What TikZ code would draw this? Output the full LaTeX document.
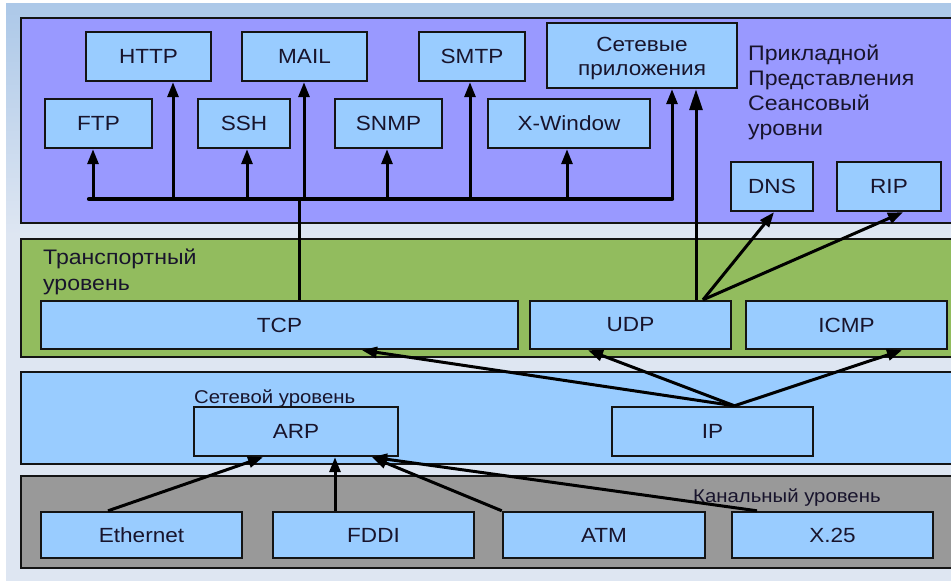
\documentclass[tikz,border=0pt]{standalone}
\usepackage{fontspec}
\setmainfont{Liberation Sans}
\newfontfamily\lblfont[FakeStretch=1.1]{Liberation Sans}
\usetikzlibrary{arrows.meta}
\definecolor{bgtop}{RGB}{172,200,232}
\definecolor{bgbot}{RGB}{222,230,242}
\definecolor{appc}{RGB}{153,153,255}
\definecolor{trc}{RGB}{146,188,94}
\definecolor{netc}{RGB}{153,204,255}
\definecolor{linkc}{RGB}{153,153,153}
\definecolor{boxc}{RGB}{153,204,255}
\definecolor{txt}{RGB}{24,20,44}
\definecolor{edgec}{RGB}{20,20,20}
\tikzset{
  panel/.style={draw=edgec, line width=2.2pt},
  protobox/.style={draw=edgec, line width=2.4pt, fill=boxc, inner sep=0pt},
  prototext/.style={text=txt, inner sep=0pt, align=center,
    font=\lblfont\fontsize{20.5}{23}\selectfont},
  proto/.style={protobox, prototext},
  lbl/.style={text=txt, inner sep=0pt, anchor=base west, font=\lblfont\fontsize{21}{24}\selectfont},
  smalllbl/.style={text=txt, inner sep=0pt, anchor=base west, font=\lblfont\fontsize{18.5}{22}\selectfont},
  conn/.style={line width=3pt, draw=black},
  arr/.style={conn, -{Triangle[length=15pt,width=11pt]}},
  bigarr/.style={conn, -{Triangle[length=21pt,width=13pt]}},
  busline/.style={line width=4.2pt, draw=black, line cap=round}
}
\begin{document}
\begin{tikzpicture}[x=1pt,y=-1pt]
\useasboundingbox (0,0) rectangle (951,581);
\clip (0,0) rectangle (951,581);
% background
\fill[white] (0,0) rectangle (951,581);
\fill[bgbot] (6,3) rectangle (951,581);
\shade[top color=bgtop, bottom color=bgbot] (6,3) rectangle (951,235);
% layer panels
\path[panel, fill=appc] (21,18) rectangle (965,223);
\path[panel, fill=trc] (21,239) rectangle (965,357);
\path[panel, fill=netc] (21,372) rectangle (965,464);
\path[panel, fill=linkc] (21,476) rectangle (965,568);

% application layer boxes
\node[proto, minimum width=125, minimum height=49] (http) at (148.5,56.5) {HTTP};
\node[proto, minimum width=125, minimum height=49] (mail) at (304.5,56.5) {MAIL};
\node[proto, minimum width=106, minimum height=49] (smtp) at (472,56.5) {SMTP};
\node[protobox, minimum width=190, minimum height=65] (netapp) at (642,55.5) {};
\node[prototext] (netapptxt) at ([yshift=-3pt]netapp.center) {Сетевые\\[1.5pt]приложения};
\node[proto, minimum width=107, minimum height=49] (ftp) at (98.5,123.5) {FTP};
\node[proto, minimum width=92, minimum height=49] (ssh) at (244,123.5) {SSH};
\node[proto, minimum width=107, minimum height=49] (snmp) at (388.5,123.5) {SNMP};
\node[proto, minimum width=162, minimum height=49] (xwin) at (569,123.5) {X-Window};
\node[proto, minimum width=82, minimum height=49] (dns) at (772,186.5) {DNS};
\node[proto, minimum width=104, minimum height=49] (rip) at (889,186.5) {RIP};

\node[lbl] (l1) at (748,60) {Прикладной};
\node[lbl] (l2) at (748,85) {Представления};
\node[lbl] (l3) at (748,110) {Сеансовый};
\node[lbl] (l4) at (748,135) {уровни};

% transport layer
\node[lbl] (t1) at (43,264) {Транспортный};
\node[lbl] (t2) at (43,290) {уровень};
\node[proto, minimum width=477, minimum height=48] (tcp) at (279.5,325) {TCP};
\node[proto, minimum width=201, minimum height=48] (udp) at (630.5,325) {UDP};
\node[proto, minimum width=201, minimum height=48] (icmp) at (846.5,325) {ICMP};

% network layer
\node[smalllbl] (n1) at (194,403) {Сетевой уровень};
\node[proto, minimum width=204, minimum height=49] (arp) at (296,431.5) {ARP};
\node[proto, minimum width=201, minimum height=49] (ip) at (712.5,431.5) {IP};

% link layer
\node[smalllbl] (k1) at (693,502) {Канальный уровень};
\node[proto, minimum width=201, minimum height=46] (eth) at (141.5,535) {Ethernet};
\node[proto, minimum width=201, minimum height=46] (fddi) at (373.5,535) {FDDI};
\node[proto, minimum width=202, minimum height=46] (atm) at (604,535) {ATM};
\node[proto, minimum width=201, minimum height=46] (x25) at (832.5,535) {X.25};

% bus in application layer
\coordinate (busL) at (89,199);
\coordinate (busR) at (672,199);
\coordinate (b1) at (93,199);
\coordinate (b2) at (173,199);
\coordinate (b3) at (247,199);
\coordinate (b4) at (304,199);
\coordinate (b5) at (387,199);
\coordinate (b6) at (470,199);
\coordinate (b7) at (567,199);
\coordinate (btcp) at (299,199);
\draw[busline] (busL) -- (busR);
\draw[arr] (b1) -- (b1 |- ftp.south);
\draw[arr] (b2) -- (b2 |- http.south);
\draw[arr] (b3) -- (b3 |- ssh.south);
\draw[arr] (b4) -- (b4 |- mail.south);
\draw[arr] (b5) -- (b5 |- snmp.south);
\draw[arr] (b6) -- (b6 |- smtp.south);
\draw[arr] (b7) -- (b7 |- xwin.south);
\draw[arr] (busR) -- (busR |- netapp.south);
\draw[conn] (btcp |- tcp.north) -- (btcp);

% UDP upward
\coordinate (u1) at ([xshift=65.5pt]udp.north);
\coordinate (u2) at ([xshift=72.5pt]udp.north);
\draw[bigarr] (u1) -- (u1 |- netapp.south);
\draw[arr] (u2) -- ([xshift=2pt]dns.south);
\draw[arr] (u2) -- ([xshift=14pt]rip.south);

% IP upward
\coordinate (ipsrc) at ([xshift=22pt]ip.north);
\draw[arr] (ipsrc) -- ([xshift=82.5pt]tcp.south);
\draw[arr] (ipsrc) -- ([xshift=-42.5pt]udp.south);
\draw[arr] (ipsrc) -- ([xshift=55.5pt]icmp.south);

% link to ARP
\coordinate (arpA) at ([xshift=76pt]arp.south);
\draw[arr] ([xshift=-33.5pt]eth.north) -- ([xshift=-33pt]arp.south);
\draw[arr] ([xshift=-38.5pt]fddi.north) -- ([xshift=39pt]arp.south);
\draw[arr] (atm.north west) -- (arpA);
\draw[arr] ([xshift=-75.5pt]x25.north) -- (arpA);
\end{tikzpicture}
\end{document}
